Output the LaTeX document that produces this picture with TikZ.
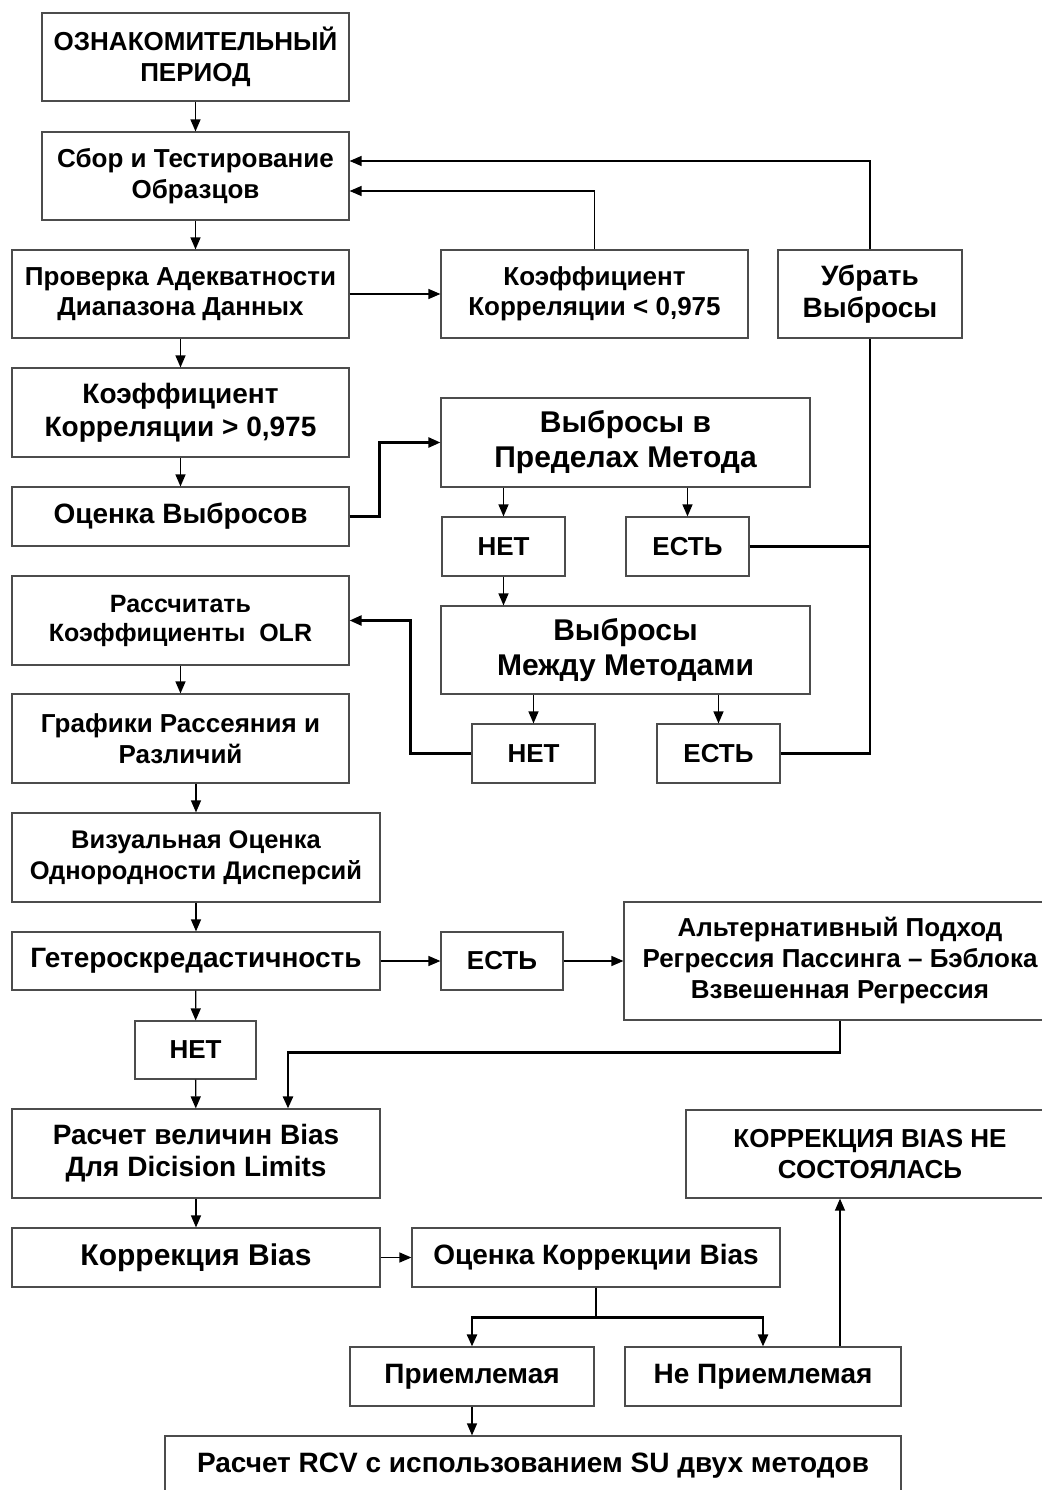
\documentclass[tikz,border=0pt]{standalone}
\usepackage{fontspec}
\setmainfont{Liberation Sans}
\usetikzlibrary{arrows.meta}
\newcommand{\fs}[2]{\fontsize{#1}{#2}\selectfont\bfseries}
\tikzset{
  box/.style={draw=black!70, line width=1.2pt, fill=white, align=center, inner sep=0pt},
  link/.style={draw=black, line width=1.3pt},
  boldlink/.style={draw=black, line width=2.4pt}
}
\begin{document}
\begin{tikzpicture}[x=1pt, y=-1pt, >={Triangle[length=12pt,width=10pt]}]
    \useasboundingbox [fill=white] (0,0) rectangle (1041,1490);
    % left column
    \node (ozn)  [box, minimum width=307, minimum height=88, font=\fs{26}{31}] at (195.5,57) {ОЗНАКОМИТЕЛЬНЫЙ\\ ПЕРИОД};
    \node (sbor) [box, minimum width=307, minimum height=88, font=\fs{26}{31}] at (195.5,176) {Сбор и Тестирование\\ Образцов};
    \node (prov) [box, minimum width=337, minimum height=88, font=\fs{26}{30}] at (180.5,294) {Проверка Адекватности\\ Диапазона Данных};
    \node (kor2) [box, minimum width=337, minimum height=89, font=\fs{28}{33}] at (180.5,412.5) {Коэффициент\\ Корреляции > 0,975};
    \node (ocv)  [box, minimum width=337, minimum height=59, font=\fs{28}{30}] at (180.5,516.5) {Оценка Выбросов};
    \node (rass) [box, minimum width=337, minimum height=89, font=\fs{25}{29}] at (180.5,620.5) {Рассчитать\\ Коэффициенты\ \ OLR};
    \node (graf) [box, minimum width=337, minimum height=89, font=\fs{26}{31}] at (180.5,738.5) {Графики Рассеяния и\\ Различий};
    \node (viz)  [box, minimum width=368, minimum height=89, font=\fs{25.5}{31}] at (196,857.5) {Визуальная Оценка\\ Однородности Дисперсий};
    \node (get)  [box, minimum width=368, minimum height=58, font=\fs{28}{30}] at (196,961) {Гетероскредастичность};
    \node (net3) [box, minimum width=121, minimum height=58, font=\fs{26}{28}] at (195.5,1050) {НЕТ};
    \node (rvb)  [box, minimum width=368, minimum height=89, font=\fs{28}{32}] at (196,1153.5) {Расчет величин Bias\\ Для Dicision Limits};
    \node (korb) [box, minimum width=368, minimum height=59, font=\fs{30}{32}] at (196,1257.5) {Коррекция Bias};
    % right part
    \node (kor1) [box, minimum width=307, minimum height=88, font=\fs{26}{30}] at (594.5,294) {Коэффициент\\ Корреляции < 0,975};
    \node (ubr)  [box, minimum width=184, minimum height=88, font=\fs{28}{32}] at (870,294) {Убрать\\ Выбросы};
    \node (vvp)  [box, minimum width=369, minimum height=89, font=\fs{30}{35}] at (625.5,442.5) {Выбросы в\\ Пределах Метода};
    \node (net1) [box, minimum width=123, minimum height=59, font=\fs{26}{28}] at (503.5,546.5) {НЕТ};
    \node (est1) [box, minimum width=123, minimum height=59, font=\fs{26}{28}] at (687.5,546.5) {ЕСТЬ};
    \node (vmm)  [box, minimum width=369, minimum height=88, font=\fs{30}{35}] at (625.5,650) {Выбросы\\ Между Методами};
    \node (net2) [box, minimum width=123, minimum height=59, font=\fs{26}{28}] at (533.5,753.5) {НЕТ};
    \node (est2) [box, minimum width=123, minimum height=59, font=\fs{26}{28}] at (718.5,753.5) {ЕСТЬ};
    \node (est3) [box, minimum width=122, minimum height=58, font=\fs{26}{28}] at (502,961) {ЕСТЬ};
    \node (alt)  [box, minimum width=432, minimum height=118, font=\fs{26}{31}] at (840,961) {Альтернативный Подход\\ Регрессия Пассинга – Бэблока\\ Взвешенная Регрессия};
    \node (kbns) [box, minimum width=368, minimum height=88, font=\fs{26}{31}] at (870,1154) {КОРРЕКЦИЯ BIAS НЕ\\ СОСТОЯЛАСЬ};
    \node (okb)  [box, minimum width=368, minimum height=59, font=\fs{28}{30}] at (596,1257.5) {Оценка Коррекции Bias};
    \node (prm)  [box, minimum width=244, minimum height=59, font=\fs{28}{30}] at (472,1376.5) {Приемлемая};
    \node (nprm) [box, minimum width=276, minimum height=59, font=\fs{28}{30}] at (763,1376.5) {Не Приемлемая};
    \node (rcv)  [box, minimum width=736, minimum height=59, font=\fs{28}{30}] at (533,1465.5) {Расчет RCV с использованием SU двух методов};
    % main chain
    \draw [link, ->] (ozn) -- (sbor);
    \draw [link, ->] (sbor.south) -- (sbor.south |- prov.north);
    \draw [link, ->] (prov) -- (kor2);
    \draw [link, ->] (prov) -- (kor1);
    \draw [link, ->] (kor2) -- (ocv);
    \draw [link, ->] (rass) -- (graf);
    \draw [link, ->] (viz.north |- graf.south) -- (viz.north);
    \draw [link, ->] (viz) -- (get);
    \draw [link, ->] (get) -- (net3);
    \draw [link, ->] (net3) -- (rvb);
    \draw [link, ->] (rvb) -- (korb);
    \draw [link, ->] (get) -- (est3);
    \draw [link, ->] (est3) -- (alt);
    \draw [link, ->] (korb) -- (okb);
    % back to sampling
    \draw [link, ->] (kor1.north) |- ([yshift=-15pt]sbor.east);
    \draw [link, ->] (ubr.north) |- ([yshift=15pt]sbor.east);
    % outliers
    \draw [boldlink, ->] (ocv.east) -- ++(30,0) |- (vvp.west);
    \draw [link, ->] (net1.north |- vvp.south) -- (net1.north);
    \draw [link, ->] (est1.north |- vvp.south) -- (est1.north);
    \draw [link, ->] (net1.south) -- (net1.south |- vmm.north);
    \draw [link, ->] (net2.north |- vmm.south) -- (net2.north);
    \draw [link, ->] (est2.north |- vmm.south) -- (est2.north);
    \draw [boldlink] (est1.east) -- (ubr.south |- est1.east);
    \draw [boldlink] (est2.east) -| (ubr.south);
    \draw [boldlink, ->] (net2.west) -- ++(-61,0) |- (rass.east);
    % alternative approach
    \draw [boldlink, ->] (alt.south) -- ++(0,32) -| ([xshift=92pt]rvb.north);
    % bias evaluation
    \draw [link] (okb.south) -- ++(0,30) coordinate (br);
    \draw [boldlink, ->] (br) -| (prm.north);
    \draw [boldlink, ->] (br) -| (nprm.north);
    \draw [link, ->] ([xshift=77pt]nprm.north) -- ([xshift=77pt]nprm.north |- kbns.south);
    \draw [link, ->] (prm.south) -- (prm.south |- rcv.north);
\end{tikzpicture}
\end{document}
